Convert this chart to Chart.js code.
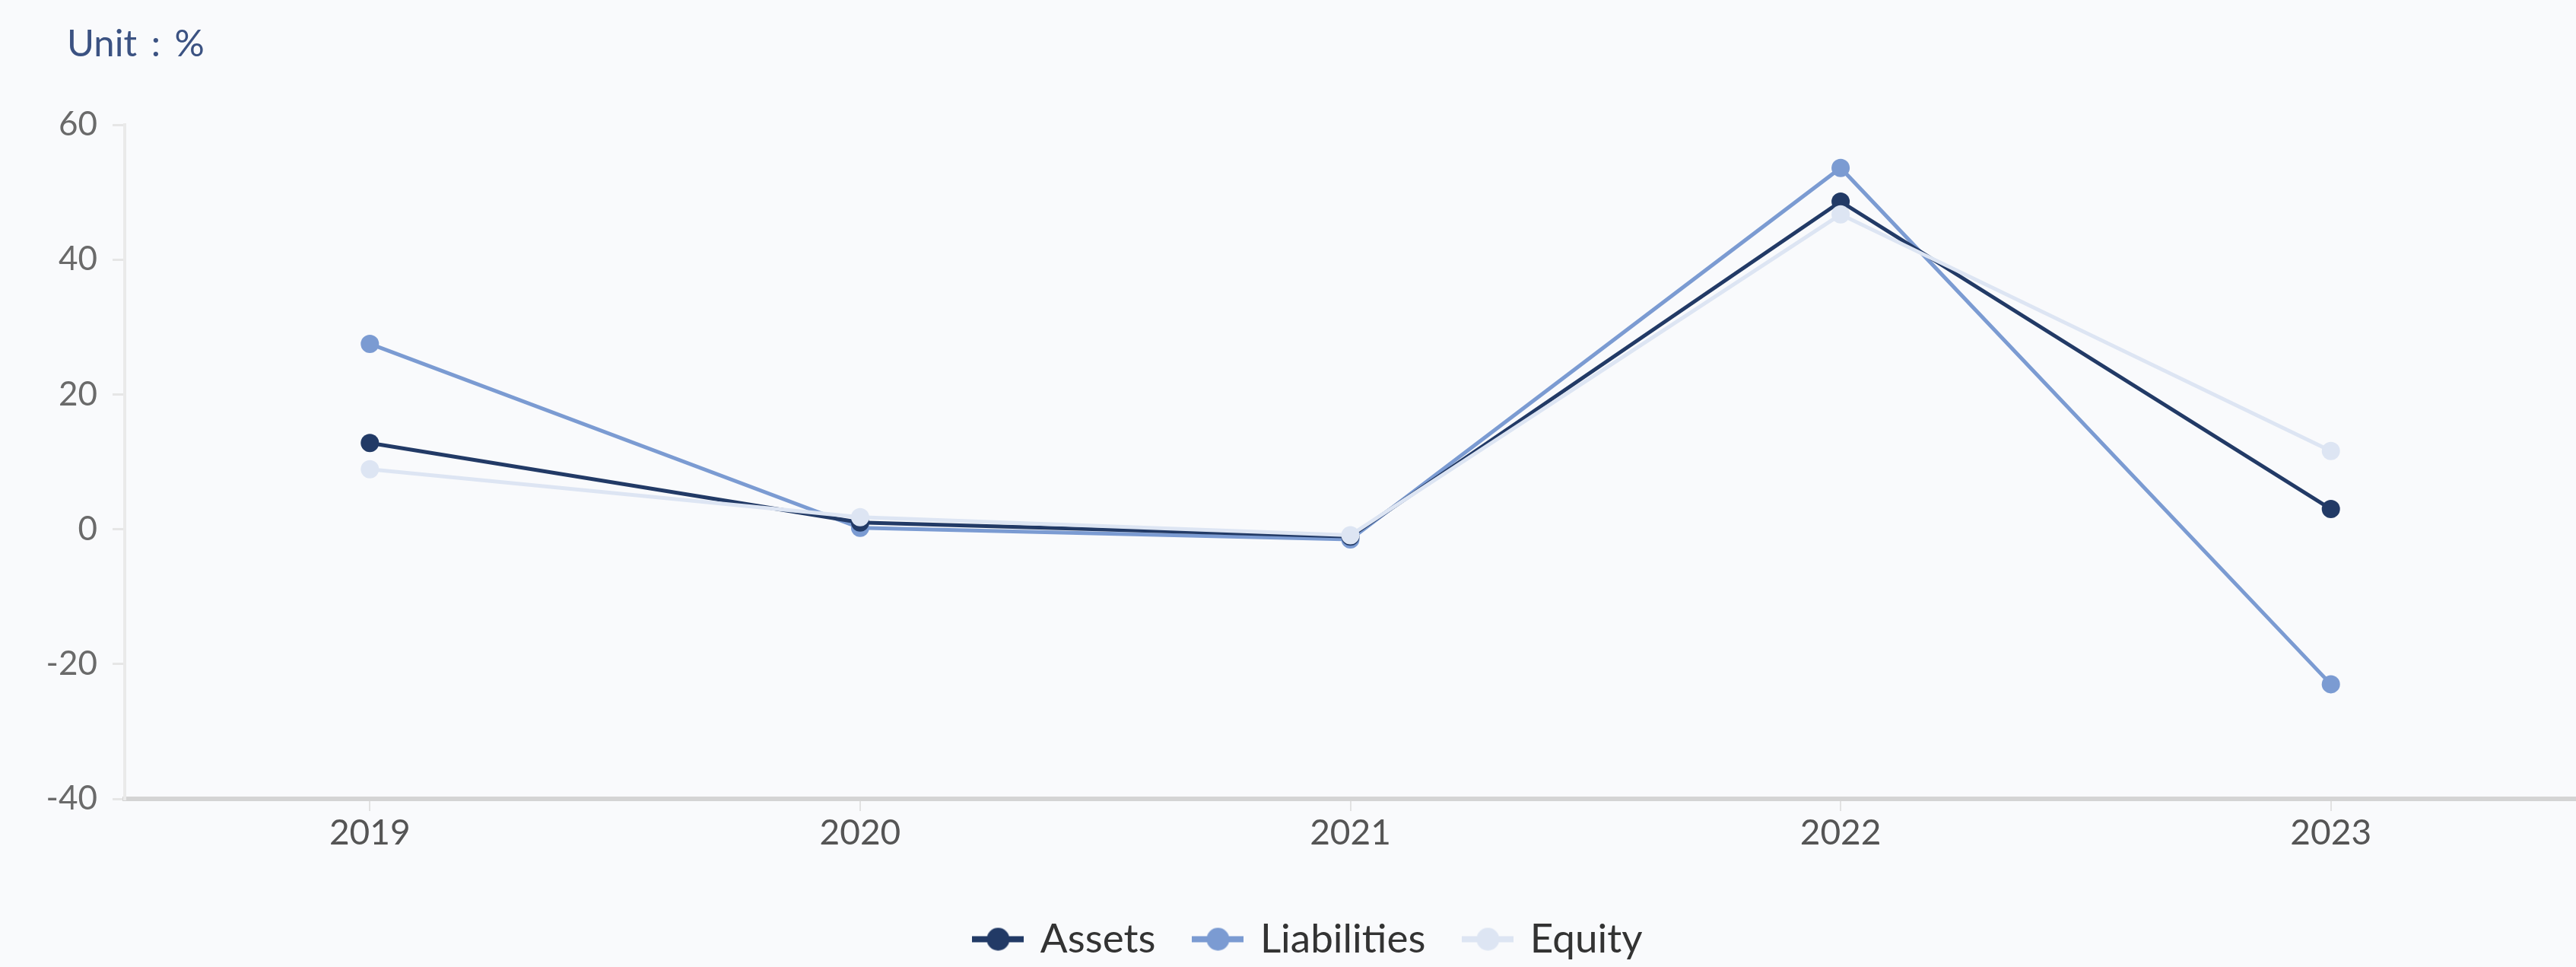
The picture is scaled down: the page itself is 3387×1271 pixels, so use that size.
<!DOCTYPE html>
<html>
<head>
<meta charset="utf-8">
<script src="https://cdn.jsdelivr.net/npm/chart.js@4.4.1/dist/chart.umd.min.js"></script>
<style>
	html, body { margin: 0; padding: 0; background: #f9fafc; overflow: hidden; }
	#chartBox { width: 3387px; height: 1271px; position: relative; }
</style>
</head>
<body>
<div id="chartBox"><canvas id="lineChart"></canvas></div>
<script>
// chart data
var years = ["2019", "2020", "2021", "2022", "2023"];
var assets = [12.8, 1.0, -1.1, 48.6, 3.0];
var liabilities = [27.5, 0.2, -1.5, 53.6, -23.0];
var equity = [8.9, 1.8, -0.9, 46.7, 11.6];
var seriesNames = ["Assets", "Liabilities", "Equity"];
var seriesColors = ["#223a66", "#7b9bd2", "#dde5f3"];

// legend marker: short line with a dot in the middle
function makeMarker(color) {
	var c = document.createElement("canvas");
	c.width = 68;
	c.height = 32;
	var ctx = c.getContext("2d");
	ctx.strokeStyle = color;
	ctx.lineWidth = 8;
	ctx.beginPath();
	ctx.moveTo(0, 16);
	ctx.lineTo(68, 16);
	ctx.stroke();
	ctx.fillStyle = color;
	ctx.beginPath();
	ctx.arc(34, 16, 15, 0, Math.PI * 2);
	ctx.fill();
	return c;
}

// background, "Unit : %" caption, legend nudge
var extras = {
	id: "extras",
	afterLayout: function(chart) {
		// legend in the original sits a bit right of centre
		chart.legend.left += 28;
		chart.legend.right += 28;
	},
	beforeDraw: function(chart) {
		var ctx = chart.ctx;
		ctx.save();
		ctx.fillStyle = "#f9fafc";
		ctx.fillRect(0, 0, chart.width, chart.height);
		ctx.restore();
	},
	afterDraw: function(chart) {
		var ctx = chart.ctx;
		ctx.save();
		ctx.font = "49px Lato";
		ctx.fillStyle = "#3b5282";
		ctx.textBaseline = "middle";
		ctx.fillText("Unit\u2009 : \u2009%", 88, 58);
		ctx.restore();
	}
};

function makeDataset(i, values, order) {
	return {
		label: seriesNames[i],
		data: values,
		borderColor: seriesColors[i],
		backgroundColor: seriesColors[i],
		pointBackgroundColor: seriesColors[i],
		pointBorderWidth: 0,
		pointRadius: 12,
		borderWidth: 5,
		tension: 0,
		order: order
	};
}

var lineChart = new Chart(document.getElementById("lineChart"), {
	type: "line",
	data: {
		labels: years,
		datasets: [
			makeDataset(0, assets, 2),
			makeDataset(1, liabilities, 3),
			makeDataset(2, equity, 1)
		]
	},
	plugins: [extras],
	options: {
		responsive: true,
		maintainAspectRatio: false,
		animation: false,
		layout: { autoPadding: false, padding: { top: 164, left: 0, right: 0, bottom: 0 } },
		plugins: {
			tooltip: { enabled: false },
			legend: {
				position: "bottom",
				labels: {
					usePointStyle: true,
					pointStyleWidth: 58,
					padding: 53,
					color: "#333333",
					font: { family: "Lato", size: 53 },
					generateLabels: function(chart) {
						return chart.data.datasets.map(function(ds, i) {
							return {
								text: ds.label,
								pointStyle: makeMarker(seriesColors[i]),
								fillStyle: seriesColors[i],
								strokeStyle: seriesColors[i],
								lineWidth: 0,
								fontColor: "#333333",
								datasetIndex: i,
								hidden: false
							};
						});
					}
				}
			}
		},
		scales: {
			x: {
				offset: true,
				border: { color: "#d4d4d4", width: 6 },
				grid: { drawOnChartArea: false, tickLength: 16, color: "#e2e2e2", lineWidth: 2 },
				ticks: { color: "#555555", padding: 2, font: { family: "Lato", size: 46 } },
				afterFit: function(scale) { scale.height = 105; }
			},
			y: {
				min: -40,
				max: 60,
				border: { color: "#eaeaea", width: 4 },
				grid: { drawOnChartArea: false, tickLength: 16, color: "#e6e6e6", lineWidth: 3 },
				ticks: { stepSize: 20, color: "#6a6a6a", padding: 20, font: { family: "Lato", size: 44 } },
				afterFit: function(scale) { scale.width = 164; }
			}
		}
	}
});
</script>
</body>
</html>
